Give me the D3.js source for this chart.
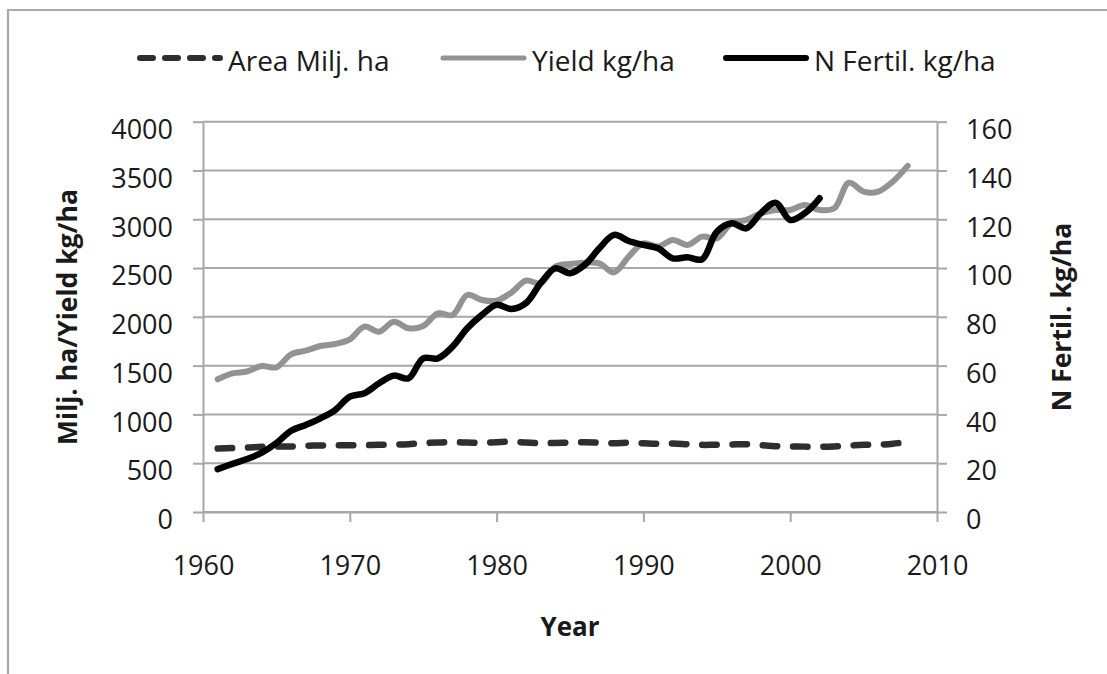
<!DOCTYPE html>
<html>
<head>
<meta charset="utf-8">
<script src="https://cdn.jsdelivr.net/npm/d3@7"></script>
<style>
  body { margin: 0; background: #fff; }
  svg { display: block; font-family: "Open Sans", sans-serif; }
</style>
</head>
<body>
<div id="chart"></div>
<script>
// years 1961..2008
const years = d3.range(1961, 2009);

const areaValues = [650, 655, 660, 668, 670, 672, 678, 682, 685, 683,
                    685, 688, 690, 695, 705, 712, 715, 712, 708, 715,
                    720, 712, 705, 708, 712, 715, 710, 705, 710, 705,
                    700, 702, 695, 688, 690, 692, 695, 685, 675, 672,
                    670, 668, 672, 680, 688, 690, 700, 718];

const yieldValues = [1360, 1421, 1440, 1496, 1483, 1616, 1653, 1701, 1722, 1770,
                     1900, 1848, 1950, 1883, 1906, 2036, 2019, 2224, 2173, 2166,
                     2248, 2371, 2344, 2515, 2542, 2555, 2548, 2456, 2617, 2754,
                     2720, 2788, 2737, 2822, 2805, 2959, 2993, 3061, 3095, 3095,
                     3147, 3095, 3112, 3375, 3284, 3284, 3387, 3547];

// N fertiliser stops in 2002
const fertYears = d3.range(1961, 2003);
const fertValues = [17.6, 19.7, 21.7, 24.3, 28.2, 33.3, 35.7, 38.4, 41.8, 47.3,
                    48.7, 52.8, 55.9, 54.8, 63.0, 63.0, 67.8, 75.3, 80.8, 84.9,
                    83.2, 85.6, 93.8, 99.9, 97.9, 101.3, 108.1, 113.6, 111.1, 109.5,
                    108.1, 104.0, 104.4, 103.6, 114.9, 118.4, 116.3, 122.5, 126.8, 119.7,
                    122.5, 128.6];

const xTicks = [1960, 1970, 1980, 1990, 2000, 2010];
const leftTicks = [0, 500, 1000, 1500, 2000, 2500, 3000, 3500, 4000];
const rightTicks = [0, 20, 40, 60, 80, 100, 120, 140, 160];

const legendNames = ["Area Milj. ha", "Yield kg/ha", "N Fertil. kg/ha"];

const width = 1107, height = 674;
const plot = { left: 203, right: 937, top: 121.7, bottom: 512 };
const gridColor = "#a7a7aa";
const textColor = "#1a1a1a";

const svg = d3.select("#chart").append("svg")
	.attr("width", width)
	.attr("height", height);

// outer frame (only left and top visible)
svg.append("path")
	.attr("d", `M8,${height} L8,10 L${width},10`)
	.attr("fill", "none")
	.attr("stroke", "#a9a9ac")
	.attr("stroke-width", 2.2);

const x = d3.scaleLinear().domain([1960, 2010]).range([plot.left, plot.right]);
const yL = d3.scaleLinear().domain([0, 4000]).range([plot.bottom, plot.top]);
const yR = d3.scaleLinear().domain([0, 160]).range([plot.bottom, plot.top]);

// gridlines
svg.append("g")
	.selectAll("line")
	.data(leftTicks)
	.join("line")
	.attr("x1", plot.left)
	.attr("x2", plot.right)
	.attr("y1", d => yL(d))
	.attr("y2", d => yL(d))
	.attr("stroke", gridColor)
	.attr("stroke-width", 2);

function styleAxis(g) {
	g.select(".domain").attr("stroke", gridColor).attr("stroke-width", 2);
	g.selectAll(".tick line").attr("stroke", gridColor).attr("stroke-width", 2);
	g.selectAll("text")
		.attr("fill", textColor)
		.style("font-family", "'Open Sans', sans-serif")
		.style("font-size", "27px");
}

const xAxis = svg.append("g")
	.attr("transform", `translate(0,${plot.bottom})`)
	.call(d3.axisBottom(x).tickValues(xTicks).tickFormat(d3.format("d")).tickSize(10).tickSizeOuter(0).tickPadding(34));
styleAxis(xAxis);

const leftAxis = svg.append("g")
	.attr("transform", `translate(${plot.left},0)`)
	.call(d3.axisLeft(yL).tickValues(leftTicks).tickFormat(d3.format("d")).tickSize(10).tickSizeOuter(0).tickPadding(20));
styleAxis(leftAxis);
leftAxis.selectAll("text").attr("dy", "0.62em");

const rightAxis = svg.append("g")
	.attr("transform", `translate(${plot.right},0)`)
	.call(d3.axisRight(yR).tickValues(rightTicks).tickFormat(d3.format("d")).tickSize(10).tickSizeOuter(0).tickPadding(19));
styleAxis(rightAxis);
rightAxis.selectAll("text").attr("dy", "0.62em");

// axis titles
svg.append("text")
	.attr("transform", `translate(77,317) rotate(-90)`)
	.attr("text-anchor", "middle")
	.attr("fill", textColor)
	.style("font-weight", "bold")
	.style("font-size", "26.5px")
	.text("Milj. ha/Yield kg/ha");

svg.append("text")
	.attr("transform", `translate(1071,317) rotate(-90)`)
	.attr("text-anchor", "middle")
	.attr("fill", textColor)
	.style("font-weight", "bold")
	.style("font-size", "26.5px")
	.text("N Fertil. kg/ha");

svg.append("text")
	.attr("x", (plot.left + plot.right) / 2)
	.attr("y", 636)
	.attr("text-anchor", "middle")
	.attr("fill", textColor)
	.style("font-weight", "bold")
	.style("font-size", "26px")
	.text("Year");

// series
const curve = d3.curveCatmullRom.alpha(0.5);

const lineL = d3.line()
	.x((d, i) => x(years[i]))
	.y(d => yL(d))
	.curve(curve);

const lineR = d3.line()
	.x((d, i) => x(fertYears[i]))
	.y(d => yR(d))
	.curve(curve);

svg.append("path")
	.attr("d", lineL(yieldValues))
	.attr("fill", "none")
	.attr("stroke", "#939396")
	.attr("stroke-width", 6)
	.attr("stroke-linecap", "round")
	.attr("stroke-linejoin", "round");

svg.append("path")
	.attr("d", lineL(areaValues))
	.attr("fill", "none")
	.attr("stroke", "#2e2e30")
	.attr("stroke-width", 6.5)
	.attr("stroke-dasharray", "14.5,15.8")
	.attr("stroke-linecap", "round");

svg.append("path")
	.attr("d", lineR(fertValues))
	.attr("fill", "none")
	.attr("stroke", "#000")
	.attr("stroke-width", 6.5)
	.attr("stroke-linecap", "round")
	.attr("stroke-linejoin", "round");

// legend
const legendItems = [
	{ name: legendNames[0], x1: 140, x2: 220, color: "#2e2e30", w: 6, dash: "13,12" },
	{ name: legendNames[1], x1: 443, x2: 524, color: "#939396", w: 5, dash: null },
	{ name: legendNames[2], x1: 726, x2: 806, color: "#000", w: 6, dash: null }
];

const legend = svg.append("g")
	.selectAll("g")
	.data(legendItems)
	.join("g");

legend.append("line")
	.attr("x1", d => d.x1)
	.attr("x2", d => d.x2)
	.attr("y1", 58)
	.attr("y2", 58)
	.attr("stroke", d => d.color)
	.attr("stroke-width", d => d.w)
	.attr("stroke-linecap", "round")
	.attr("stroke-dasharray", d => d.dash);

legend.append("text")
	.attr("x", d => d.x2 + 8)
	.attr("y", 71)
	.attr("fill", textColor)
	.style("font-size", "28px")
	.text(d => d.name);
</script>
</body>
</html>
